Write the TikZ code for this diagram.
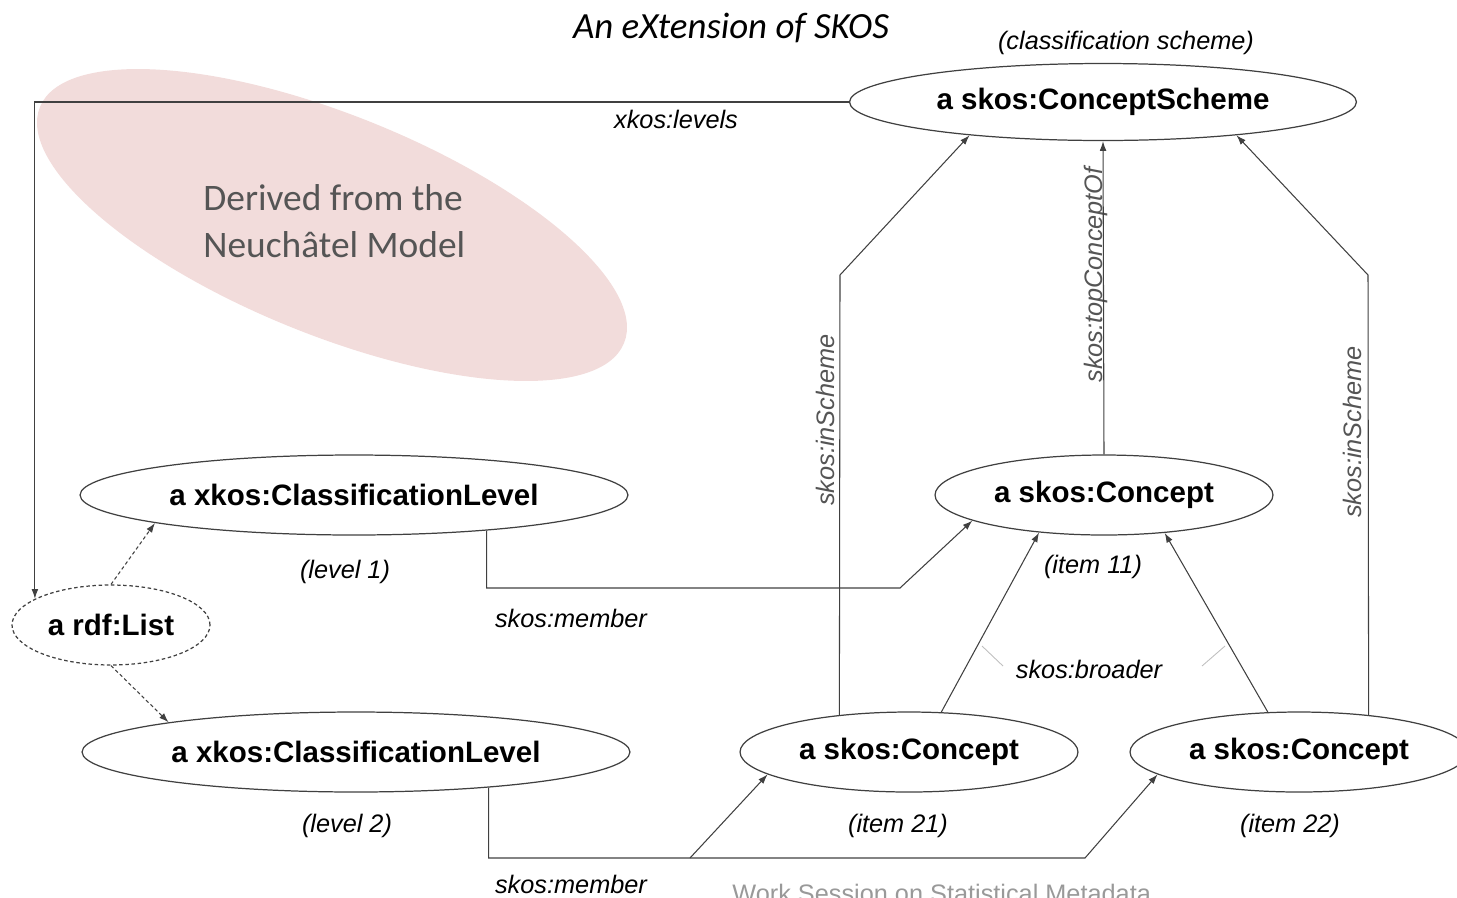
\documentclass[tikz,border=0pt]{standalone}
\usepackage{fontspec}
\setmainfont{Liberation Sans}
\newfontfamily\calfont{Carlito}
\usepackage{tikz}
\usetikzlibrary{shapes.geometric,arrows.meta}
\definecolor{linegray}{RGB}{64,64,64}
\definecolor{blush}{RGB}{242,220,219}
\definecolor{notegray}{RGB}{85,85,85}
\tikzset{
  res/.style={ellipse, draw=linegray, line width=0.7pt, inner sep=0pt, minimum height=1.6cm,
    font=\fontsize{16.8}{20}\selectfont\bfseries},
  lbl/.style={inner sep=0pt, font=\fontsize{14.4}{17}\selectfont\itshape},
  rel/.style={draw=linegray, line width=0.6pt, -{Latex[length=5.5pt,width=3.8pt]}},
  lst/.style={rel, dash pattern=on 2pt off 1.5pt}
}
\begin{document}
\begin{tikzpicture}[x=0.02cm, y=-0.02cm]
		\useasboundingbox (0,0) rectangle (1457,897);
		\clip (0,0) rectangle (1457,897);
		\fill[blush, rotate around={-22:(332,225)}] (332,225) ellipse (315 and 110);
		\node[anchor=west, align=left, inner sep=0pt, text=notegray, font=\calfont\fontsize{21.3}{26.5}\selectfont] (origin) at (203,221) {Derived from the\\Neuchâtel Model};
		\node[font=\calfont\itshape\fontsize{21}{25}\selectfont] (title) at (731,28) {An eXtension of SKOS};
		\node[res, minimum width=10.14cm, minimum height=1.54cm] (scheme) at (1103,102) {a skos:ConceptScheme};
		\node[res, minimum width=10.96cm] (lvlA) at (354,495) {a xkos:ClassificationLevel};
		\node[res, minimum width=10.96cm] (lvlB) at (356,752) {a xkos:ClassificationLevel};
		\node[res, minimum width=3.96cm, dash pattern=on 2pt off 1.5pt] (list) at (111,625) {a rdf:List};
		\node[res, minimum width=6.76cm] (c11) at (1104,495) {a skos:Concept};
		\node[res, minimum width=6.76cm] (c21) at (909,752) {a skos:Concept};
		\node[res, minimum width=6.76cm] (c22) at (1299,752) {a skos:Concept};
		\node[lbl] (schemenote) at (1126,43) {(classification scheme)};
		\node[lbl] (lvlAnote) at (345,572) {(level 1)};
		\node[lbl] (lvlBnote) at (347,826) {(level 2)};
		\node[lbl] (c11note) at (1093,567) {(item 11)};
		\node[lbl] (c21note) at (898,826) {(item 21)};
		\node[lbl] (c22note) at (1290,826) {(item 22)};
		\node[lbl] (levels) at (676,119) {xkos:levels};
		\node[lbl] (memberA) at (571,618) {skos:member};
		\node[lbl] (memberB) at (571,884) {skos:member};
		\node[lbl] (broader) at (1089,669) {skos:broader};
		\node[lbl, text=notegray, rotate=90] (inA) at (825,420) {skos:inScheme};
		\node[lbl, text=notegray, rotate=90] (inB) at (1352,432) {skos:inScheme};
		\node[lbl, text=notegray, rotate=90] (top) at (1096,275) {skos:topConceptOf};
		\node[anchor=base west, inner sep=0pt, text=black!40, font=\fontsize{14.4}{17}\selectfont] (footer) at (732,902) {Work Session on Statistical Metadata};
		\coordinate (bendA) at (840,275);
		\coordinate (bendB) at (1368,275);
		\coordinate (mA) at (900,588);
		\coordinate (mB) at (1085,858);
		\coordinate (mC) at (690,858);
		\draw[rel] (scheme.west) -| (list.161);
		\draw[lst] (list.north) -- (lvlA.188.7);
		\draw[lst] (list.south) -- (lvlB.171);
		\draw[rel] (lvlA.345) |- (mA) -- (c11.191.3);
		\draw[rel] (lvlB.345) |- (mB) -- (c22.189.9);
		\draw[rel] (mC) -- (c21.189.3);
		\draw[rel] (c21.152) -- (bendA) -- (scheme.194);
		\draw[rel] (c22.28) -- (bendB) -- (scheme.346);
		\draw[rel] (c11.north) -- (scheme.south);
		\draw[rel] (c21.51.7) -- (c11.210);
		\draw[rel] (c22.128.3) -- (c11.328.6);
		\draw[black!25, line width=0.5pt] (982,646) -- (1003,666) (1202,666) -- (1225,646);
	\end{tikzpicture}
\end{document}
